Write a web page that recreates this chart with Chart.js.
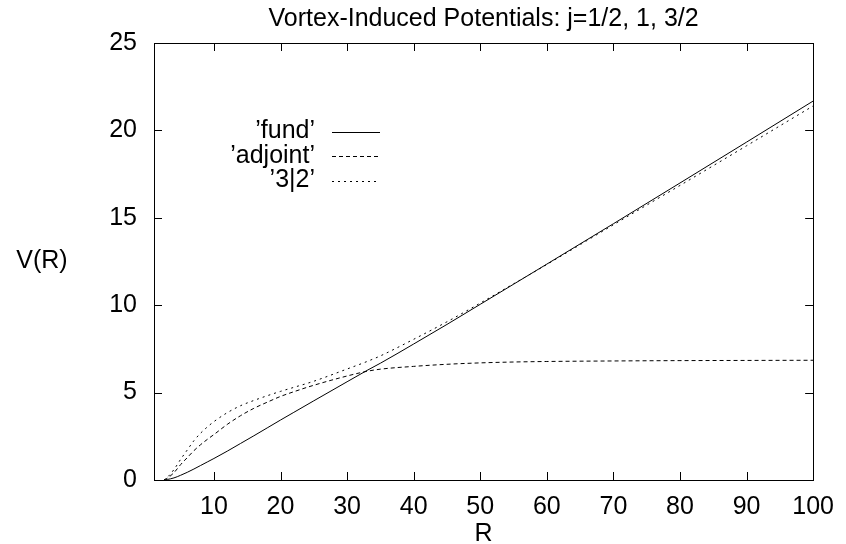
<!DOCTYPE html>
<html>
<head>
<meta charset="utf-8">
<title>Vortex-Induced Potentials</title>
<script src="https://cdn.jsdelivr.net/npm/chart.js@4"></script>
<style>
  html, body { margin: 0; padding: 0; background: #fff; }
  #wrap { width: 846px; height: 544px; }
</style>
</head>
<body>
<div id="wrap"><canvas id="chart" width="846" height="544"></canvas></div>
<script>
// data
const rValues      = [2.5, 3, 4, 5, 6, 7, 8, 9, 10, 12, 14, 16, 18, 20, 22, 25, 30, 33, 35, 40, 45, 50, 55, 60, 70, 80, 90, 100];
const fundValues   = [0, 0.03, 0.12, 0.27, 0.44, 0.63, 0.83, 1.03, 1.23, 1.65, 2.09, 2.53, 2.98, 3.43, 3.87, 4.53, 5.62, 6.27, 6.68, 7.78, 8.9, 10.05, 11.2, 12.35, 14.66, 16.99, 19.33, 21.68];
const adjointValues = [0, 0.1, 0.42, 0.88, 1.28, 1.68, 2.02, 2.32, 2.6, 3.18, 3.68, 4.1, 4.45, 4.78, 5.05, 5.42, 5.95, 6.22, 6.34, 6.5, 6.62, 6.7, 6.75, 6.78, 6.81, 6.83, 6.84, 6.85];
const threeHalfValues = [0, 0.15, 0.6, 1.18, 1.72, 2.25, 2.68, 3.03, 3.34, 3.85, 4.25, 4.55, 4.82, 5.07, 5.3, 5.65, 6.35, 6.78, 7.1, 8.05, 9.05, 10.12, 11.22, 12.33, 14.6, 16.85, 19.12, 21.4];
const seriesNames = ['\u2019fund\u2019', '\u2019adjoint\u2019', '\u20193|2\u2019'];
const xTicks = [10, 20, 30, 40, 50, 60, 70, 80, 90, 100];
const yTicks = [0, 5, 10, 15, 20, 25];

const FONT = 'Liberation Sans, Arial, Helvetica, sans-serif';

function toPoints(ys) {
  return rValues.map((r, i) => ({ x: r, y: ys[i] }));
}

// gnuplot look: frame, inward ticks on all sides, key and titles
const gnuplotDecor = {
  id: 'gnuplotDecor',
  afterDatasetsDraw(chart) {
    const ctx = chart.ctx;
    const a = chart.chartArea;
    const xs = chart.scales.x, ys = chart.scales.y;
    const tl = 8;
    ctx.save();
    ctx.strokeStyle = '#000';
    ctx.lineWidth = 1;
    ctx.setLineDash([]);
    ctx.strokeRect(Math.round(a.left) + 0.5, Math.round(a.top) + 0.5,
                   Math.round(a.right - a.left), Math.round(a.bottom - a.top));
    ctx.beginPath();
    xTicks.forEach(v => {
      const px = Math.round(xs.getPixelForValue(v)) + 0.5;
      ctx.moveTo(px, a.bottom); ctx.lineTo(px, a.bottom - tl);
      ctx.moveTo(px, a.top); ctx.lineTo(px, a.top + tl);
    });
    yTicks.forEach(v => {
      const py = Math.round(ys.getPixelForValue(v)) + 0.5;
      ctx.moveTo(a.left, py); ctx.lineTo(a.left + tl, py);
      ctx.moveTo(a.right, py); ctx.lineTo(a.right - tl, py);
    });
    ctx.stroke();

    // key
    ctx.font = '25px ' + FONT;
    ctx.fillStyle = '#000';
    ctx.textAlign = 'right';
    ctx.textBaseline = 'middle';
    chart.data.datasets.forEach((ds, i) => {
      const y = 131.5 + i * 24.5;
      ctx.fillText(ds.label, 315, y);
      ctx.beginPath();
      ctx.setLineDash(ds.borderDash || []);
      ctx.moveTo(332, Math.round(y) + 0.5);
      ctx.lineTo(380, Math.round(y) + 0.5);
      ctx.stroke();
    });
    ctx.setLineDash([]);

    // titles
    ctx.textAlign = 'center';
    ctx.textBaseline = 'alphabetic';
    ctx.fillText('Vortex-Induced Potentials: j=1/2, 1, 3/2', (a.left + a.right) / 2, 26);
    ctx.fillText('R', (a.left + a.right) / 2, 541);
    ctx.textBaseline = 'middle';
    ctx.fillText('V(R)', 42, (a.top + a.bottom) / 2);
    ctx.restore();
  }
};

new Chart(document.getElementById('chart').getContext('2d'), {
  type: 'scatter',
  data: {
    datasets: [
      { label: seriesNames[0], data: toPoints(fundValues), borderDash: [] },
      { label: seriesNames[1], data: toPoints(adjointValues), borderDash: [4, 3] },
      { label: seriesNames[2], data: toPoints(threeHalfValues), borderDash: [2, 4] }
    ].map(ds => Object.assign(ds, {
      showLine: true,
      borderColor: '#000',
      borderWidth: 1,
      pointRadius: 0,
      cubicInterpolationMode: 'monotone',
      fill: false
    }))
  },
  options: {
    responsive: false,
    animation: false,
    devicePixelRatio: 1,
    layout: { padding: { top: 43, right: 27, left: 0, bottom: 0 } },
    plugins: {
      legend: { display: false },
      title: { display: false },
      tooltip: { enabled: false }
    },
    scales: {
      x: {
        type: 'linear',
        min: 1,
        max: 100,
        afterBuildTicks: s => { s.ticks = xTicks.map(v => ({ value: v })); },
        afterFit: s => { s.height = 64; },
        grid: { display: false, drawTicks: false },
        border: { display: false },
        ticks: { color: '#000', font: { family: FONT, size: 25 }, padding: 12, maxRotation: 0, autoSkip: false }
      },
      y: {
        type: 'linear',
        min: 0,
        max: 25,
        afterBuildTicks: s => { s.ticks = yTicks.map(v => ({ value: v })); },
        afterFit: s => { s.width = 154; },
        grid: { display: false, drawTicks: false },
        border: { display: false },
        ticks: { color: '#000', font: { family: FONT, size: 25 }, padding: 17 }
      }
    }
  },
  plugins: [gnuplotDecor]
});
</script>
</body>
</html>
